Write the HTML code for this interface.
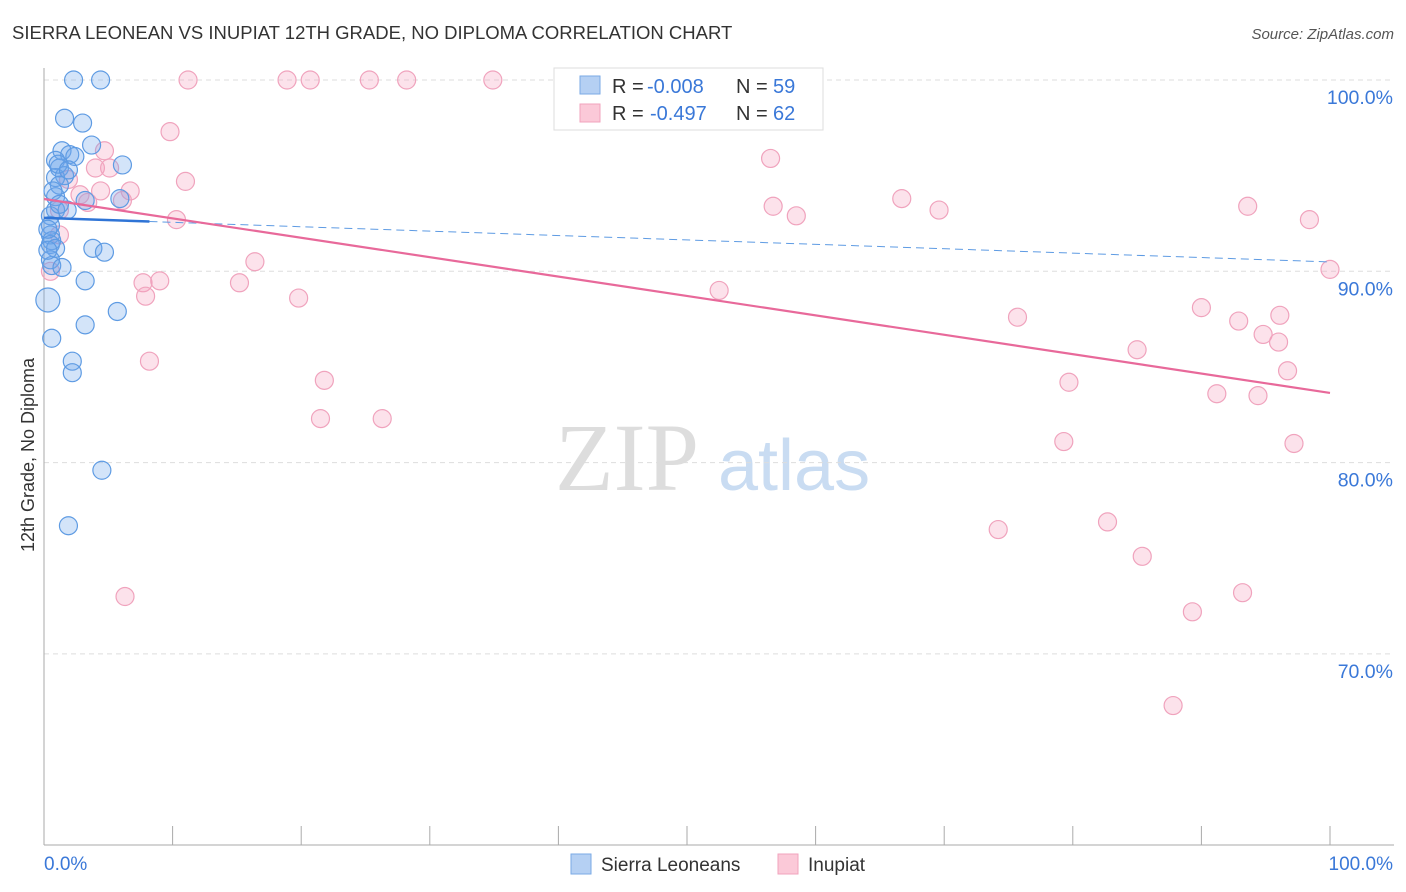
<!DOCTYPE html>
<html><head><meta charset="utf-8"><style>
body{margin:0;background:#fff;font-family:"Liberation Sans",sans-serif;}
</style></head><body>
<svg id="chart" width="1406" height="892" style="display:block">
<text x="12" y="39" font-size="18.5" fill="#333">SIERRA LEONEAN VS INUPIAT 12TH GRADE, NO DIPLOMA CORRELATION CHART</text>
<text x="1394" y="39" font-size="15" fill="#555" font-style="italic" text-anchor="end">Source: ZipAtlas.com</text>
<text x="555" y="490" font-size="96" fill="#ddd" font-family="Liberation Serif,serif">ZIP</text>
<text x="718" y="490" font-size="72" fill="#c9dcf2">atlas</text>
<text x="34" y="455" font-size="18" fill="#333" transform="rotate(-90 34 455)" text-anchor="middle">12th Grade, No Diploma</text>
<g id="grid"></g><g id="pts"></g><g id="lines"></g>
<g>
<rect x="554" y="68" width="269" height="62" fill="#fff" stroke="#ddd"/>
<rect x="580" y="76" width="20" height="18" fill="#b5d0f3" stroke="#7aaae6"/>
<rect x="580" y="104" width="20" height="18" fill="#fbc9d8" stroke="#f1a3bd"/>
<text y="93" font-size="20" fill="#333"><tspan x="612">R =</tspan><tspan x="647" fill="#3a78d8">-0.008</tspan><tspan x="736">N =</tspan><tspan x="773" fill="#3a78d8">59</tspan></text>
<text y="120" font-size="20" fill="#333"><tspan x="612">R =</tspan><tspan x="650" fill="#3a78d8">-0.497</tspan><tspan x="736">N =</tspan><tspan x="773" fill="#3a78d8">62</tspan></text>
</g>
<g>
<rect x="571" y="854" width="20" height="20" fill="#b5d0f3" stroke="#7aaae6"/>
<text x="601" y="871" font-size="19" fill="#333">Sierra Leoneans</text>
<rect x="778" y="854" width="20" height="20" fill="#fbc9d8" stroke="#f1a3bd"/>
<text x="808" y="871" font-size="19" fill="#333">Inupiat</text>
</g>
</svg>
<script>
const yTicks=[100,90,80,70];
const yTickLabels=["100.0%","90.0%","80.0%","70.0%"];
const xTickLabels=["0.0%","100.0%"];
const blueX=[2.3,4.4,1.6,3.0,3.7,6.1,1.4,2.0,0.9,2.4,1.2,1.6,0.9,1.2,5.9,3.2,0.9,0.9,1.8,0.5,0.5,0.5,0.6,0.5,0.9,3.8,4.7,0.5,0.6,1.4,3.2,0.3,5.7,3.2,0.6,2.2,2.2,4.5,1.9,0.3,0.3,1.1,1.9,0.7,1.2];
const blueY=[100,100,98.0,97.75,96.6,95.56,96.3,96.1,95.8,96.0,95.4,95.0,94.9,94.5,93.8,93.7,93.9,93.2,93.2,92.9,92.4,91.9,91.6,91.4,91.2,91.2,91.0,90.6,90.3,90.2,89.5,88.5,87.9,87.2,86.5,85.3,84.7,79.6,76.7,91.1,92.2,95.6,95.3,94.2,93.5];
const pinkX=[11.2,18.9,20.7,25.3,28.2,34.9,47.1,9.8,4.7,4.0,5.1,11.0,4.4,6.7,2.8,3.4,6.1,10.3,1.2,16.4,0.5,15.2,7.7,9.0,7.9,19.8,8.2,21.8,21.5,26.3,6.3,56.5,56.7,58.5,66.7,69.6,93.6,98.4,100,52.5,75.7,90.0,92.9,96.1,94.8,96.0,85.0,79.7,96.7,91.2,94.4,79.3,97.2,74.2,82.7,85.4,89.3,93.2,87.8,1.2,1.9];
const pinkY=[100,100,100,100,100,100,100,97.3,96.3,95.4,95.4,94.7,94.2,94.2,94.0,93.6,93.7,92.7,91.9,90.5,90.0,89.4,89.4,89.5,88.7,88.6,85.3,84.3,82.3,82.3,73.0,95.9,93.4,92.9,93.8,93.2,93.4,92.7,90.1,89.0,87.6,88.1,87.4,87.7,86.7,86.3,85.9,84.2,84.8,83.6,83.5,81.1,81.0,76.5,76.9,75.1,72.2,73.2,67.3,93.2,94.8];
const blueTrend=[92.79,90.49];
const pinkTrend=[93.78,83.64];
const NS="http://www.w3.org/2000/svg";
const sx=v=>44+v*12.86, sy=v=>80+(100-v)*19.13;
function mk(tag,attrs,parent){const e=document.createElementNS(NS,tag);for(const k in attrs)e.setAttribute(k,attrs[k]);parent.appendChild(e);return e;}
const grid=document.getElementById('grid');
yTicks.forEach((t,i)=>{
 const l=mk('line',{x1:44,x2:1394,y1:sy(t),y2:sy(t),stroke:'#ddd','stroke-dasharray':'5,4'},grid);
 
 
 const tx=mk('text',{x:1393,y:sy(t)+24,'font-size':19.5,fill:'#3a78d8','text-anchor':'end'},grid);tx.textContent=yTickLabels[i];
 
 
});
const ax=mk('line',{x1:44,x2:44,y1:68,y2:845,stroke:'#aaa'},grid);


const bx=mk('line',{x1:44,x2:1394,y1:845,y2:845,stroke:'#aaa'},grid);


for(let i=0;i<=10;i++){const t=mk('line',{x1:sx(i*10),x2:sx(i*10),y1:826,y2:845,stroke:'#aaa'},grid);
 
 }
[[0,'start',44],[1,'end',1393]].forEach(([i,a,x])=>{const t=mk('text',{x:x,y:870,'font-size':19,fill:'#3a78d8','text-anchor':a},grid);t.textContent=xTickLabels[i];
 
 });
const pts=document.getElementById('pts');
pinkX.forEach((x,i)=>{const c=mk('circle',{cx:sx(x),cy:sy(pinkY[i]),r:9,fill:'rgba(245,160,190,0.3)',stroke:'#f0a3bd','stroke-width':1.2},pts);
 
 });
blueX.forEach((x,i)=>{const c=mk('circle',{cx:sx(x),cy:sy(blueY[i]),r:i==31?12:9,fill:'rgba(110,165,235,0.3)',stroke:'#5e9be3','stroke-width':1.2},pts);
 
 });
const lines=document.getElementById('lines');
const bt=v=>blueTrend[0]+(blueTrend[1]-blueTrend[0])*v/100;
let l1=mk('line',{x1:sx(0),y1:sy(bt(0)),x2:sx(8.2),y2:sy(bt(8.2)),stroke:'#2f74d6','stroke-width':2.5},lines);


let l2=mk('line',{x1:sx(8.2),y1:sy(bt(8.2)),x2:sx(100),y2:sy(bt(100)),stroke:'#5e9be3','stroke-width':1,'stroke-dasharray':'8,5'},lines);


let l3=mk('line',{x1:sx(0),y1:sy(pinkTrend[0]),x2:sx(100),y2:sy(pinkTrend[1]),stroke:'#e8699a','stroke-width':2.2},lines);


</script>
</body></html>
